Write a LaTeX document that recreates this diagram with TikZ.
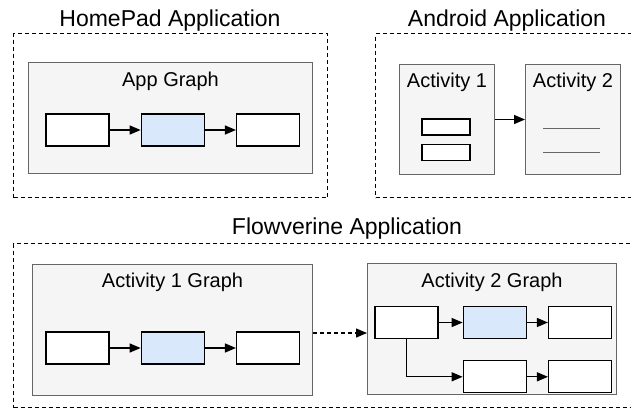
\documentclass[tikz,border=0pt]{standalone}
\usepackage{fontspec}
\setmainfont{Liberation Sans}
\usetikzlibrary{arrows.meta}
\usetikzlibrary{positioning}

\definecolor{graphfill}{HTML}{F5F5F5}
\definecolor{graphline}{HTML}{666666}
\definecolor{stepblue}{HTML}{DAE8FC}

\begin{document}
\begin{tikzpicture}[x=1pt,y=-1pt,
    appbox/.style={draw,line width=1.2pt,dash pattern=on 4pt off 3pt,anchor=north west,inner sep=0pt},
    graphbox/.style={draw=graphline,fill=graphfill,line width=1pt,anchor=north west,inner sep=0pt},
    blk/.style={draw,fill=white,line width=1.3pt,minimum width=63pt,minimum height=32pt,inner sep=0pt},
    title/.style={font=\fontsize{23}{27}\selectfont,anchor=base,inner sep=0pt},
    tag/.style={font=\fontsize{20}{24}\selectfont,anchor=base,inner sep=0pt},
    flow/.style={-{Triangle[length=11pt,width=9pt]},line width=1.3pt}]
    \useasboundingbox (0,0) rectangle (631,416);
    \clip (0,0) rectangle (631,416);

    % outer application frames
    \node[appbox,minimum width=314pt,minimum height=164pt] (homepad) at (13,33) {};
    \node[appbox,minimum width=270pt,minimum height=164pt] (android) at (375,33) {};
    \node[appbox,minimum width=632pt,minimum height=164pt] (flowverine) at (13,243) {};
    \node[title] at (170,26) {HomePad Application};
    \node[title] at (507,26) {Android Application};
    \node[title] at (347,234) {Flowverine Application};

    % HomePad
    \node[graphbox,minimum width=284pt,minimum height=111pt] (appgraph) at (28,62) {};
    \node[tag] at ([yshift=-24pt]appgraph.north) {App Graph};
    \node[blk] (a1) at (77.5,130) {};
    \node[blk,fill=stepblue,right=31pt of a1] (a2) {};
    \node[blk,right=31pt of a2] (a3) {};
    \draw[flow] (a1) -- (a2);
    \draw[flow] (a2) -- (a3);

    % Android
    \node[graphbox,minimum width=95pt,minimum height=110pt] (act1) at (399,64) {};
    \node[graphbox,minimum width=95pt,minimum height=110pt] (act2) at (525,64) {};
    \node[tag] at ([yshift=-23pt]act1.north) {Activity 1};
    \node[tag] at ([yshift=-23pt]act2.north) {Activity 2};
    \node[blk,minimum width=48pt,minimum height=16pt] (s1) at (446,127) {};
    \node[blk,minimum width=48pt,minimum height=16pt,below=8pt of s1] (s2) {};
    \draw[graphline,line width=1pt] (543,128) -- (600,128);
    \draw[graphline,line width=1pt] (543,152) -- (600,152);
    \draw[flow] (act1) -- (act2);

    % Flowverine
    \node[graphbox,minimum width=280pt,minimum height=131pt] (g1) at (32,264) {};
    \node[tag] at ([yshift=-23pt]g1.north) {Activity 1 Graph};
    \node[blk] (c1) at (77.5,348) {};
    \node[blk,fill=stepblue,right=31pt of c1] (c2) {};
    \node[blk,right=31pt of c2] (c3) {};
    \draw[flow] (c1) -- (c2);
    \draw[flow] (c2) -- (c3);

    \node[graphbox,minimum width=249pt,minimum height=131pt] (g2) at (367,263) {};
    \node[tag] at ([yshift=-24pt]g2.north) {Activity 2 Graph};
    \node[blk] (d1) at (406.5,322.5) {};
    \node[blk,fill=stepblue,right=24pt of d1] (d2) {};
    \node[blk,right=21pt of d2] (d3) {};
    \node[blk,below=21pt of d2] (d4) {};
    \node[blk,right=21pt of d4] (d5) {};
    \draw[flow] (d1) -- (d2);
    \draw[flow] (d2) -- (d3);
    \draw[flow] (d1.south) |- (d4.west);
    \draw[flow] (d4) -- (d5);

    \coordinate (hop) at (340,333);
    \draw[flow,dash pattern=on 4pt off 3pt] (g1.east |- hop) -- (g2.west |- hop);
\end{tikzpicture}
\end{document}
